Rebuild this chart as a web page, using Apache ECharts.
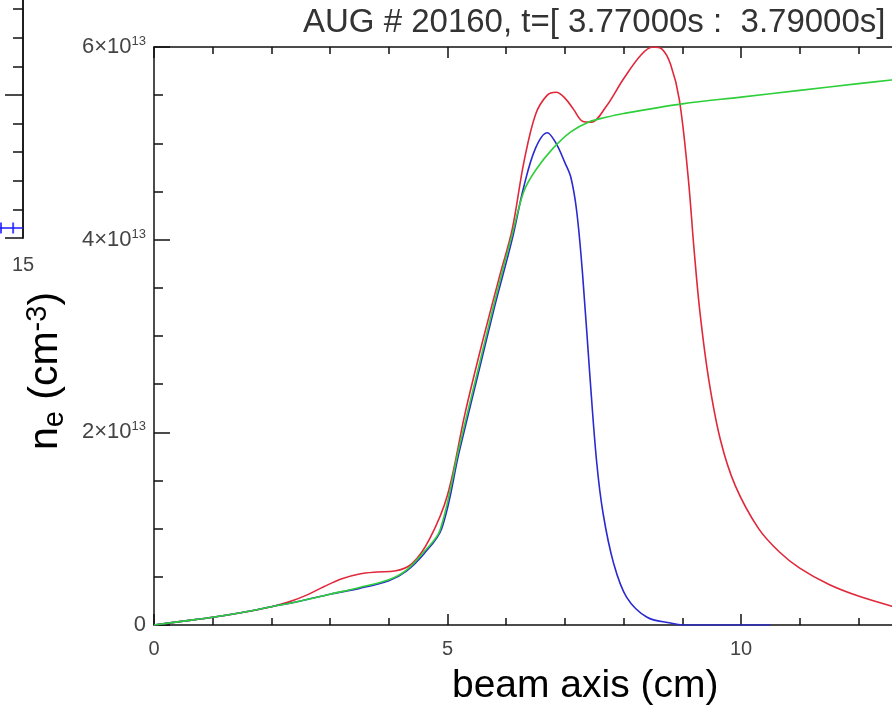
<!DOCTYPE html>
<html>
<head>
<meta charset="utf-8">
<script src="https://cdn.jsdelivr.net/npm/echarts/dist/echarts.min.js"></script>
<style>
  html, body { margin: 0; padding: 0; background: #fff; overflow: hidden; width: 892px; height: 709px; }
  /* the canvas is larger than the window: the neighbouring panel and the right part of the axis are cut off */
  #chart { position: absolute; left: -400px; top: -48px; width: 1435px; height: 757px; }
</style>
</head>
<body>
<div id="chart"></div>
<script>
// beam axis position (cm) and density n_e in units of 1e13 cm^-3
const redX = [0, 0.5, 1.0, 1.5, 2.0, 2.3, 2.6, 2.9, 3.2, 3.5, 3.8, 4.1, 4.4, 4.7, 5.0, 5.3, 5.6, 5.9, 6.1, 6.3, 6.5, 6.7, 6.85, 7.0, 7.15, 7.3, 7.45, 7.7, 8.0, 8.3, 8.5, 8.65, 8.8, 8.95, 9.1, 9.2, 9.3, 9.45, 9.65, 9.9, 10.3, 10.65, 11.0, 11.5, 12.0, 12.6];
const redY = [0, 0.04, 0.08, 0.13, 0.19, 0.24, 0.31, 0.40, 0.48, 0.53, 0.55, 0.56, 0.64, 0.9, 1.35, 2.2, 2.95, 3.65, 4.1, 4.8, 5.3, 5.5, 5.53, 5.47, 5.35, 5.23, 5.22, 5.38, 5.67, 5.92, 6.0, 5.98, 5.82, 5.45, 4.65, 3.9, 3.25, 2.55, 1.92, 1.45, 1.0, 0.76, 0.59, 0.42, 0.3, 0.19];

const blueX = [0, 0.5, 1.0, 1.5, 2.0, 2.5, 3.0, 3.5, 4.0, 4.3, 4.6, 4.9, 5.2, 5.5, 5.8, 6.1, 6.3, 6.5, 6.7, 6.85, 7.0, 7.1, 7.2, 7.3, 7.43, 7.54, 7.65, 7.83, 8.05, 8.4, 8.8, 9.0, 10.5];
const blueY = [0, 0.04, 0.08, 0.13, 0.19, 0.25, 0.32, 0.38, 0.46, 0.56, 0.74, 1.0, 1.8, 2.55, 3.3, 4.0, 4.55, 4.95, 5.11, 5.0, 4.8, 4.65, 4.3, 3.65, 2.55, 1.7, 1.16, 0.64, 0.29, 0.08, 0.02, 0, 0];

const greenX = [0, 0.5, 1.0, 1.5, 2.0, 2.5, 3.0, 3.5, 4.0, 4.3, 4.6, 4.87, 5.2, 5.5, 5.8, 6.1, 6.3, 6.5, 6.8, 7.1, 7.4, 7.7, 8.0, 9.0, 10.0, 11.0, 12.0, 12.6];
const greenY = [0, 0.04, 0.08, 0.13, 0.19, 0.25, 0.32, 0.39, 0.47, 0.57, 0.76, 0.98, 1.85, 2.6, 3.35, 4.05, 4.5, 4.72, 4.95, 5.12, 5.22, 5.27, 5.31, 5.41, 5.48, 5.55, 5.62, 5.66];

// neighbouring panel on the left (only its right edge is visible)
const sideLineX = [13.2, 15];
const sideLineY = [0.35, 0.35];
const sideBarX = [14.22, 14.65];
const sideBarY = [0.35, 0.35];

const titleText = 'AUG # 20160, t=[ 3.77000s :  3.79000s]';

const pairs = (xs, ys) => xs.map((x, i) => [x, ys[i]]);

const font = "'Liberation Sans', Arial, Helvetica, sans-serif";
const tickColor = '#111';

const chart = echarts.init(document.getElementById('chart'));

const mainX = (pos) => ({
    type: 'value',
    gridIndex: 0,
    position: pos,
    min: 0,
    max: 15,
    interval: 5,
    axisLine: { show: true, onZero: false, lineStyle: { color: tickColor, width: 1.5 } },
    axisTick: { show: true, inside: true, length: 11, lineStyle: { color: tickColor, width: 1.5 } },
    minorTick: { show: true, splitNumber: 5, length: 7, lineStyle: { color: tickColor, width: 1.5 } },
    splitLine: { show: false },
    minorSplitLine: { show: false }
});

// right edge of the cut-off side panel: long ticks every 5, short every 1
const sideY = (step, len) => ({
    type: 'value',
    gridIndex: 1,
    position: 'right',
    min: 0,
    max: 10,
    interval: step,
    axisLine: { show: true, onZero: false, lineStyle: { color: tickColor, width: 1.5 } },
    axisTick: { show: true, inside: true, length: len, lineStyle: { color: tickColor, width: 1.5 } },
    splitLine: { show: false },
    axisLabel: { show: false }
});

const option = {
    animation: false,
    backgroundColor: '#fff',
    title: {
        text: titleText,
        left: 698,
        top: 49,
        textStyle: { fontFamily: font, fontSize: 33, fontWeight: 'normal', color: '#333' }
    },
    grid: [
        { left: 554, top: 95, width: 880.5, height: 578, outerBoundsMode: 'none' },
        { left: 0, top: 0, width: 423, height: 286, outerBoundsMode: 'none' }
    ],
    xAxis: [
        Object.assign(mainX('bottom'), {
            name: 'beam axis (cm)',
            nameLocation: 'middle',
            nameGap: 42,
            nameTextStyle: { fontFamily: font, fontSize: 39, color: '#000', padding: [0, 18, 0, 0] },
            axisLabel: { show: true, margin: 14, fontFamily: font, fontSize: 20, color: '#444' }
        }),
        Object.assign(mainX('top'), { axisLabel: { show: false } }),
        {
            type: 'value',
            gridIndex: 1,
            min: 0,
            max: 15,
            interval: 5,
            axisLine: { show: false, onZero: false },
            axisTick: { show: false },
            splitLine: { show: false },
            axisLabel: { show: true, margin: 17, fontFamily: font, fontSize: 20, color: '#444' }
        }
    ],
    yAxis: [
        {
            type: 'value',
            gridIndex: 0,
            min: 0,
            max: 6,
            interval: 2,
            name: '{n|n}{e|e}{p| (cm}{s|-3}{p|)}',
            nameLocation: 'middle',
            nameRotate: 90,
            nameGap: 85,
            nameTextStyle: {
                padding: [0, 70, 0, 0],
                rich: {
                    n: { fontFamily: font, fontSize: 41, color: '#000', lineHeight: 46 },
                    p: { fontFamily: font, fontSize: 41, color: '#000', lineHeight: 46 },
                    e: { fontFamily: font, fontSize: 29, color: '#000', lineHeight: 20, verticalAlign: 'bottom' },
                    s: { fontFamily: font, fontSize: 29, color: '#000', lineHeight: 22, verticalAlign: 'top' }
                }
            },
            axisLine: { show: true, onZero: false, lineStyle: { color: tickColor, width: 1.5 } },
            axisTick: { show: true, inside: true, length: 16, lineStyle: { color: tickColor, width: 1.5 } },
            minorTick: { show: true, splitNumber: 4, length: 9, lineStyle: { color: tickColor, width: 1.5 } },
            splitLine: { show: false },
            minorSplitLine: { show: false },
            axisLabel: {
                margin: 8,
                formatter: (v) => (v === 0 ? '{b|0}' : '{b|' + v + '×10}{s|13}'),
                rich: {
                    b: { fontFamily: font, fontSize: 22, color: '#444', lineHeight: 24 },
                    s: { fontFamily: font, fontSize: 13, color: '#444', lineHeight: 12, verticalAlign: 'top' }
                }
            }
        },
        sideY(5, 18),
        sideY(1, 10)
    ],
    series: [
        {
            name: 'red',
            type: 'line',
            xAxisIndex: 0,
            yAxisIndex: 0,
            data: pairs(redX, redY),
            showSymbol: false,
            smooth: 0.35,
            lineStyle: { color: '#e0283a', width: 1.6 }
        },
        {
            name: 'blue',
            type: 'line',
            xAxisIndex: 0,
            yAxisIndex: 0,
            data: pairs(blueX, blueY),
            showSymbol: false,
            smooth: 0.35,
            lineStyle: { color: '#2a2ad0', width: 1.6 }
        },
        {
            name: 'green',
            type: 'line',
            xAxisIndex: 0,
            yAxisIndex: 0,
            data: pairs(greenX, greenY),
            showSymbol: false,
            smooth: 0.35,
            lineStyle: { color: '#2ecf3a', width: 1.6 }
        },
        {
            name: 'side line',
            type: 'line',
            xAxisIndex: 2,
            yAxisIndex: 1,
            data: pairs(sideLineX, sideLineY),
            showSymbol: false,
            lineStyle: { color: '#1a1aff', width: 1.5 }
        },
        {
            name: 'side bars',
            type: 'scatter',
            xAxisIndex: 2,
            yAxisIndex: 1,
            data: pairs(sideBarX, sideBarY),
            symbol: 'rect',
            symbolSize: [2, 11],
            itemStyle: { color: '#1a1aff' }
        }
    ]
};

chart.setOption(option);
</script>
</body>
</html>
